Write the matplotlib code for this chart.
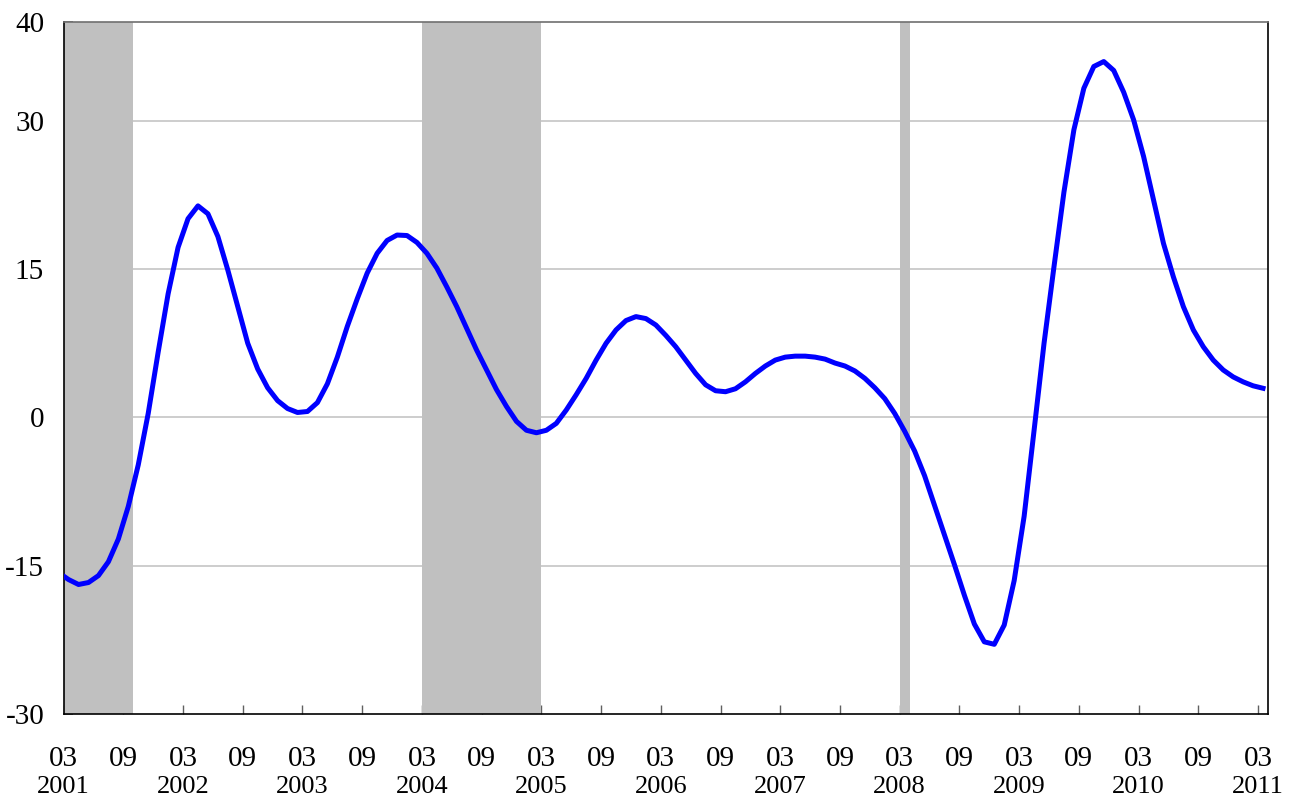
import numpy as np
import matplotlib
matplotlib.use("Agg")
import matplotlib.pyplot as plt
import matplotlib.transforms as mtransforms

plt.rcParams["axes.unicode_minus"] = False
plt.rcParams["font.family"] = "Liberation Serif"

# monthly values, mid-month, starting Feb 2001 (month index -1) to Mar 2011 (index 120)
values = [
    -15.7, -16.4, -16.9, -16.7, -16.0, -14.6, -12.3, -9.0, -4.8, 0.4,
    6.6, 12.5, 17.2, 20.1, 21.4, 20.6, 18.3, 14.9, 11.2, 7.5,
    4.9, 3.0, 1.7, 0.9, 0.5, 0.6, 1.5, 3.4, 6.1, 9.2,
    12.0, 14.6, 16.6, 17.9, 18.45, 18.4, 17.7, 16.6, 15.1, 13.2,
    11.2, 9.0, 6.8, 4.8, 2.8, 1.1, -0.4, -1.3, -1.55, -1.3,
    -0.6, 0.75, 2.3, 3.95, 5.8, 7.5, 8.85, 9.8, 10.2, 10.0,
    9.35, 8.3, 7.15, 5.8, 4.45, 3.3, 2.7, 2.6, 2.9, 3.6,
    4.45, 5.2, 5.8, 6.1, 6.2, 6.2, 6.1, 5.9, 5.5, 5.2,
    4.7, 3.95, 3.0, 1.9, 0.4, -1.4, -3.4, -5.9, -8.9, -11.9,
    -14.9, -18.0, -20.9, -22.7, -22.95, -21.0, -16.5, -10.0, -1.3, 7.5,
    15.25, 22.8, 29.1, 33.3, 35.5, 36.0, 35.1, 32.9, 30.1, 26.4,
    22.0, 17.6, 14.2, 11.2, 8.85, 7.15, 5.8, 4.8, 4.1, 3.6,
    3.2, 2.95,
]
months = np.arange(-1, len(values) - 1) + 0.5

# shaded periods (month index from Mar 2001)
shade_start = [0, 36, 84]
shade_end = [7, 48, 85]

tick_months = list(range(0, 121, 6))
tick_labels = ["03" if m % 12 == 0 else "09" for m in tick_months]
year_months = list(range(0, 121, 12))
year_labels = [str(2001 + m // 12) for m in year_months]

fig = plt.figure(figsize=(12.98, 8.01), dpi=100)
ax = fig.add_axes([63.6 / 1298, 87 / 801, (1268 - 63.6) / 1298, (714 - 22) / 801])

ax.set_yticks([-30, -15, 0, 15, 30, 40])
ax.set_ylim(-30, 40)
ax.set_xlim(0, 121)
for y in [-15, 0, 15, 30]:
    ax.axhline(y, color="#c0c0c0", lw=1.1, zorder=1)

for s, e in zip(shade_start, shade_end):
    ax.axvspan(s, e, color="#c0c0c0", lw=0, zorder=2)

ax.plot(months, values, color="#0000ff", lw=3.6, zorder=3)

ax.set_xticks(tick_months)
ax.set_xticklabels(tick_labels)
ax.tick_params(axis="x", direction="in", length=6.5, width=1, color="#606060",
               pad=23, labelsize=21)
ax.tick_params(axis="y", direction="in", length=6.5, width=1.2, color="#606060",
               pad=14, labelsize=21)

trans = mtransforms.blended_transform_factory(ax.transData, ax.transAxes)
for m, yl in zip(year_months, year_labels):
    ax.text(m, -0.09, yl, transform=trans, ha="center", va="top",
            fontsize=19)

for side in ["left", "bottom", "right"]:
    ax.spines[side].set_color("black")
    ax.spines[side].set_linewidth(1.2)
ax.spines["top"].set_color("#707070")
ax.spines["top"].set_linewidth(1.2)

fig.savefig("out.png", dpi=100)
